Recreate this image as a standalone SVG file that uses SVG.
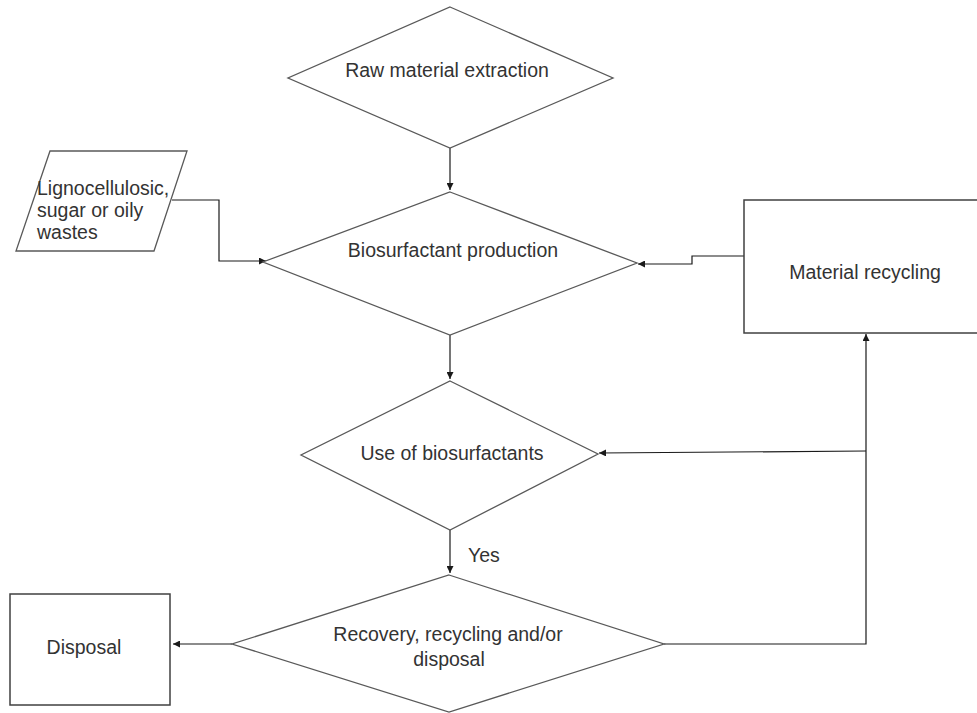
<svg xmlns="http://www.w3.org/2000/svg" width="977" height="713" viewBox="0 0 977 713">
<defs>
<style>
.shape{fill:#fff;stroke:#595959;stroke-width:1.3}
.box{fill:#fff;stroke:#404040;stroke-width:1.5}
.conn{fill:none;stroke:#1a1a1a;stroke-width:1.2}
text{font-family:"Liberation Sans",Arial,sans-serif;font-size:19.5px;fill:#333}
.c{text-anchor:middle}
</style>
<marker id="arr" viewBox="0 0 10 10" refX="10" refY="5" markerWidth="9" markerHeight="7" markerUnits="userSpaceOnUse" orient="auto">
<path d="M0,0 L10,5 L0,10 z" fill="#1a1a1a"/>
</marker>
</defs>
<rect width="977" height="713" fill="#fff"/>
<g id="connectors">
<path class="conn" d="M450,148 V190" marker-end="url(#arr)"/>
<path class="conn" d="M172,200 H219 V261 H266" marker-end="url(#arr)"/>
<path class="conn" d="M744,256 H692 V264 H638" marker-end="url(#arr)"/>
<path class="conn" d="M450,335 V379" marker-end="url(#arr)"/>
<path class="conn" d="M450,530 V573" marker-end="url(#arr)"/>
<path class="conn" d="M232,644 H173" marker-end="url(#arr)"/>
<path class="conn" d="M664,644 H866 V334" marker-end="url(#arr)"/>
<path class="conn" d="M866,451 L599,453" marker-end="url(#arr)"/>
</g>
<g id="raw">
<polygon class="shape" points="450,7 613,78 450,148 288,78"/>
<text class="c" x="447" y="77">Raw material extraction</text>
</g>
<g id="wastes">
<polygon class="shape" points="50,151 187,151 154,251 16,251"/>
<text x="37" y="195">Lignocellulosic,</text>
<text x="37" y="217">sugar or oily</text>
<text x="37" y="239">wastes</text>
</g>
<g id="production">
<polygon class="shape" points="450,192 637,263 450,335 263,262"/>
<text class="c" x="453" y="257">Biosurfactant production</text>
</g>
<g id="recycling">
<rect class="box" x="744" y="200" width="260" height="133"/>
<text class="c" x="865" y="279">Material recycling</text>
</g>
<g id="use">
<polygon class="shape" points="450,381 598,454 450,530 301,455"/>
<text class="c" x="452" y="460">Use of biosurfactants</text>
</g>
<g id="yes">
<text x="468" y="562">Yes</text>
</g>
<g id="recovery">
<polygon class="shape" points="449,575 664,644 449,712 232,644"/>
<text class="c" x="448" y="641">Recovery, recycling and/or</text>
<text class="c" x="449" y="666">disposal</text>
</g>
<g id="disposal">
<rect class="box" x="10" y="594" width="160" height="111"/>
<text class="c" x="84" y="654">Disposal</text>
</g>
</svg>
